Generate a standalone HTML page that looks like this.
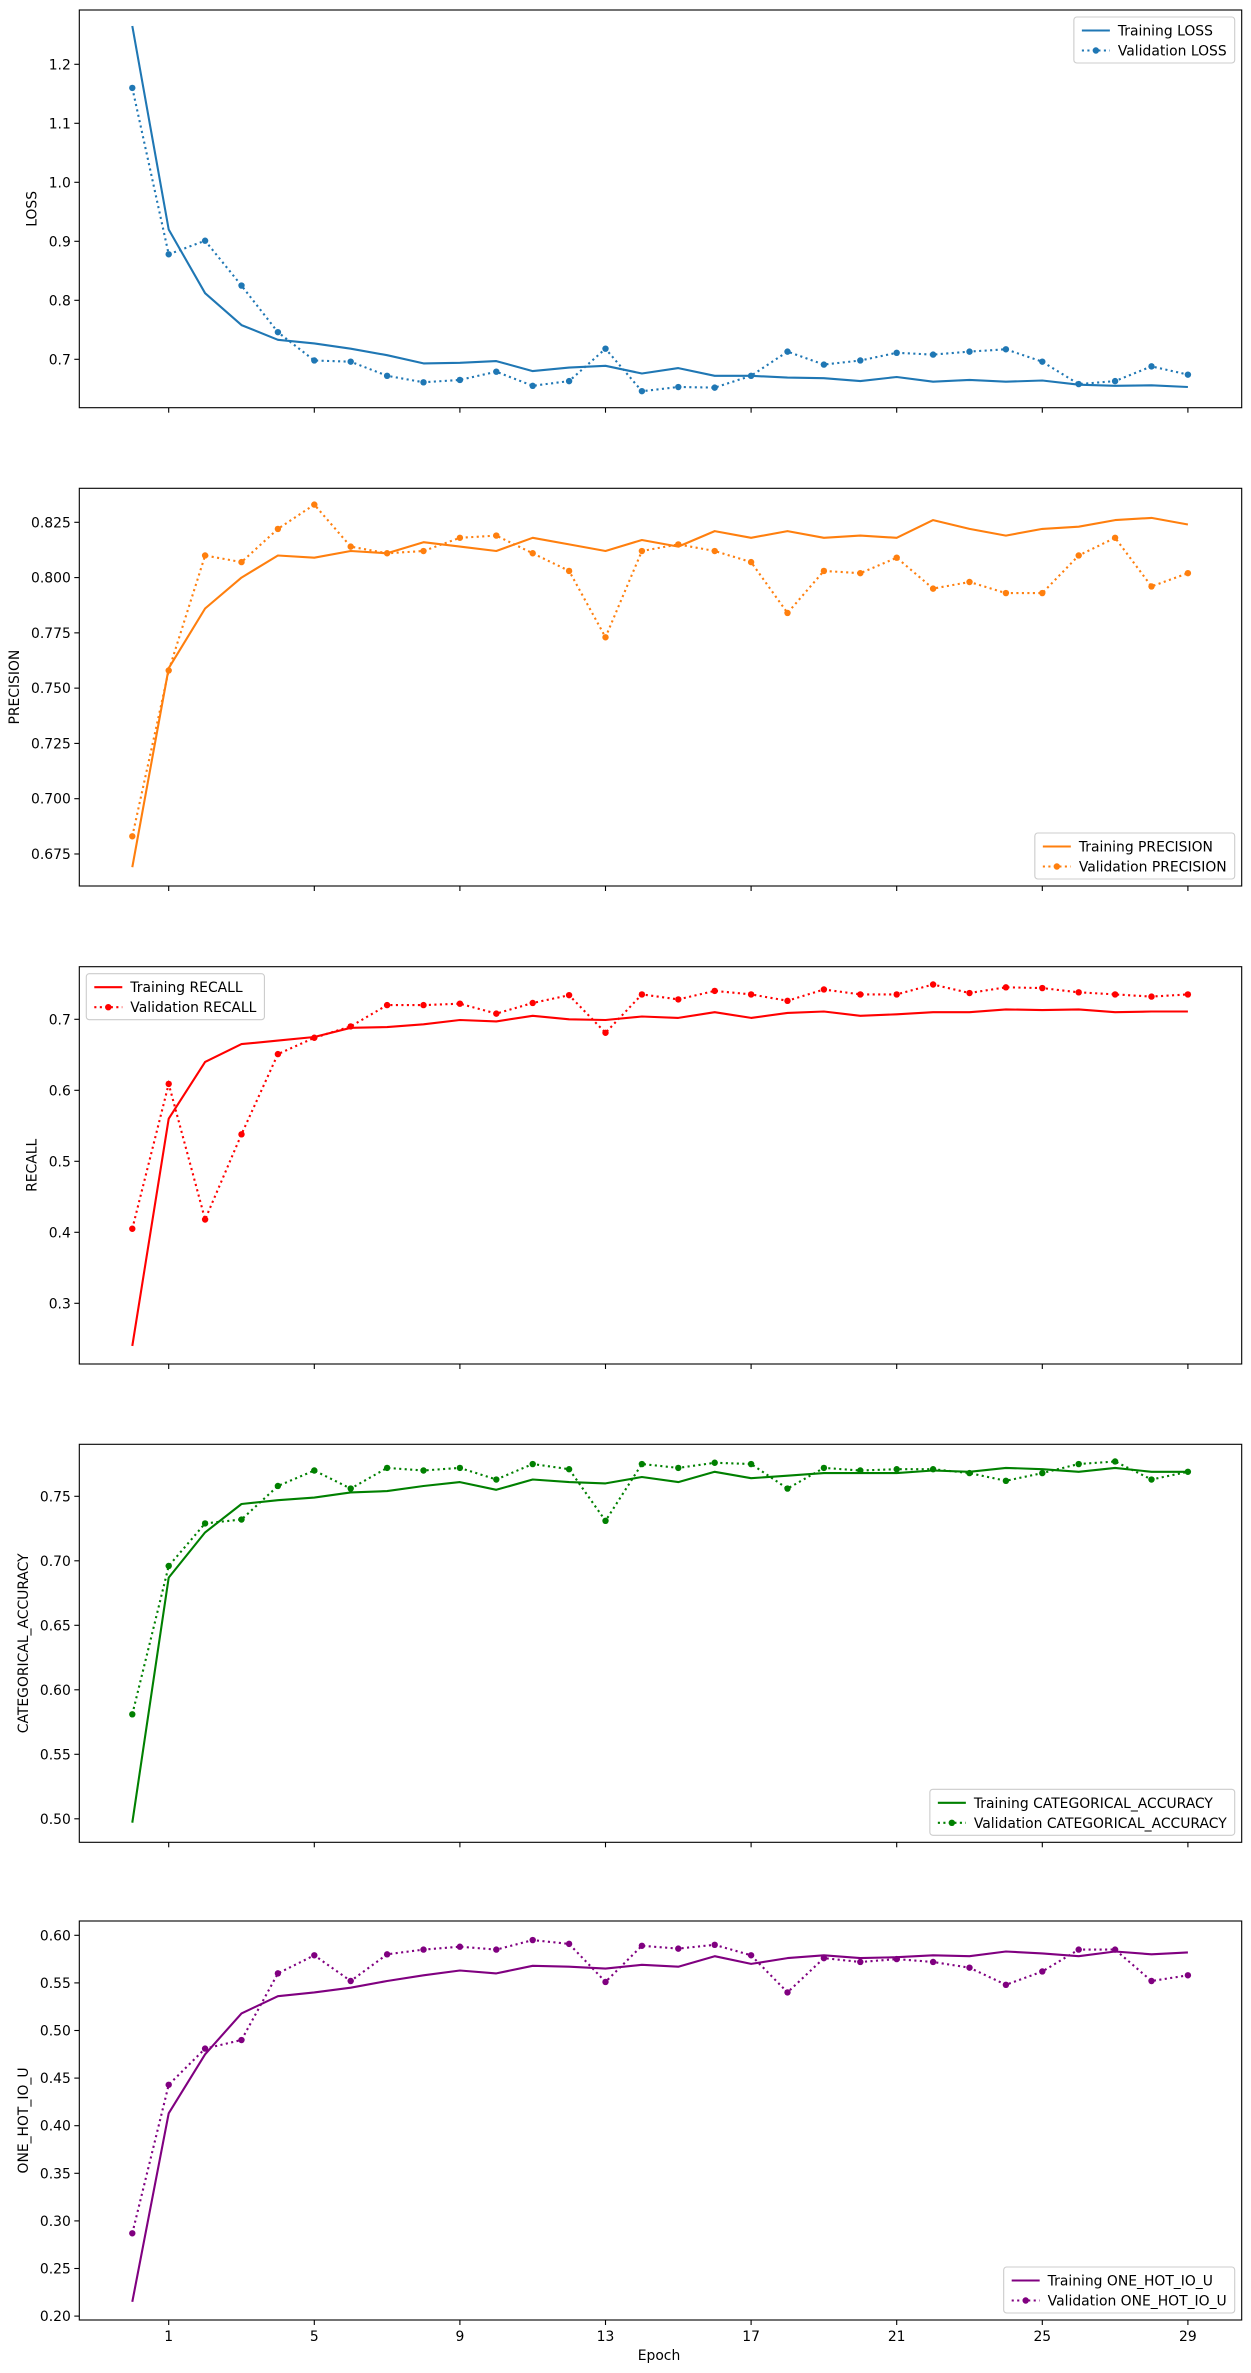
<!DOCTYPE html>
<html><head><meta charset="utf-8"><style>
html,body{margin:0;padding:0;background:#fff;}
svg{display:block;font-family:"DejaVu Sans","Liberation Sans",sans-serif;}
</style></head><body>
<svg id="s" xmlns="http://www.w3.org/2000/svg" width="1251" height="2373" viewBox="0 0 1251 2373"></svg>
<script>
var NS="http://www.w3.org/2000/svg";
var S=document.getElementById('s');
function el(t,a,p,txt){var e=document.createElementNS(NS,t);for(var k in a)e.setAttribute(k,a[k]);if(txt!==undefined)e.textContent=txt;(p||S).appendChild(e);return e;}
var X0=79.3,X1=1241.7;
function xi(i){return 132.3+36.4*i;}
var panels=[
{name:"LOSS",col:"#1f77b4",top:10,bot:407.7,v0:1.2,y0:64.3,k:59/0.1,ticks:[0.7,0.8,0.9,1.0,1.1,1.2],dec:1,leg:"ur",
tr:[1.265,0.92,0.812,0.758,0.733,0.727,0.718,0.707,0.693,0.694,0.697,0.680,0.686,0.689,0.676,0.685,0.672,0.672,0.669,0.668,0.663,0.670,0.662,0.665,0.662,0.664,0.657,0.655,0.656,0.653],
va:[1.16,0.878,0.901,0.825,0.746,0.698,0.696,0.672,0.661,0.665,0.679,0.655,0.663,0.718,0.646,0.653,0.652,0.672,0.713,0.691,0.698,0.711,0.708,0.713,0.717,0.696,0.658,0.663,0.688,0.674]},
{name:"PRECISION",col:"#ff7f0e",top:488.3,bot:886,v0:0.825,y0:522.3,k:55.28/0.025,ticks:[0.675,0.7,0.725,0.75,0.775,0.8,0.825],dec:3,leg:"lr",
tr:[0.669,0.759,0.786,0.800,0.810,0.809,0.812,0.811,0.816,0.814,0.812,0.818,0.815,0.812,0.817,0.814,0.821,0.818,0.821,0.818,0.819,0.818,0.826,0.822,0.819,0.822,0.823,0.826,0.827,0.824],
va:[0.683,0.758,0.810,0.807,0.822,0.833,0.814,0.811,0.812,0.818,0.819,0.811,0.803,0.773,0.812,0.815,0.812,0.807,0.784,0.803,0.802,0.809,0.795,0.798,0.793,0.793,0.810,0.818,0.796,0.802]},
{name:"RECALL",col:"#ff0000",top:966.7,bot:1364,v0:0.7,y0:1019.3,k:71/0.1,ticks:[0.3,0.4,0.5,0.6,0.7],dec:1,leg:"ul",
tr:[0.24,0.56,0.64,0.665,0.67,0.675,0.688,0.689,0.693,0.699,0.697,0.705,0.700,0.699,0.704,0.702,0.710,0.702,0.709,0.711,0.705,0.707,0.710,0.710,0.714,0.713,0.714,0.710,0.711,0.711],
va:[0.405,0.609,0.418,0.538,0.651,0.674,0.690,0.720,0.720,0.722,0.708,0.723,0.734,0.681,0.735,0.728,0.740,0.735,0.726,0.742,0.735,0.735,0.749,0.737,0.745,0.744,0.738,0.735,0.732,0.735]},
{name:"CATEGORICAL_ACCURACY",col:"#008000",top:1444.3,bot:1842.3,v0:0.75,y0:1496.3,k:64.5/0.05,ticks:[0.5,0.55,0.6,0.65,0.7,0.75],dec:2,leg:"lr",
tr:[0.497,0.687,0.722,0.744,0.747,0.749,0.753,0.754,0.758,0.761,0.755,0.763,0.761,0.760,0.765,0.761,0.769,0.764,0.766,0.768,0.768,0.768,0.770,0.769,0.772,0.771,0.769,0.772,0.769,0.769],
va:[0.581,0.696,0.729,0.732,0.758,0.770,0.756,0.772,0.770,0.772,0.763,0.775,0.771,0.731,0.775,0.772,0.776,0.775,0.756,0.772,0.770,0.771,0.771,0.768,0.762,0.768,0.775,0.777,0.763,0.769]},
{name:"ONE_HOT_IO_U",col:"#800080",top:1921,bot:2320,v0:0.6,y0:1935.3,k:47.6/0.05,ticks:[0.2,0.25,0.3,0.35,0.4,0.45,0.5,0.55,0.6],dec:2,leg:"lr",
tr:[0.215,0.413,0.475,0.518,0.536,0.540,0.545,0.552,0.558,0.563,0.560,0.568,0.567,0.565,0.569,0.567,0.578,0.570,0.576,0.579,0.576,0.577,0.579,0.578,0.583,0.581,0.578,0.583,0.580,0.582],
va:[0.287,0.443,0.481,0.490,0.560,0.579,0.552,0.580,0.585,0.588,0.585,0.595,0.591,0.551,0.589,0.586,0.590,0.579,0.540,0.576,0.572,0.575,0.572,0.566,0.548,0.562,0.585,0.585,0.552,0.558]}
];
var FS=13.9;
panels.forEach(function(p,pi){
  function yv(v){return p.y0+(p.v0-v)*p.k;}
  var g=el('g',{});
  var cid='c'+pi;
  var cp=el('clipPath',{id:cid},g);el('rect',{x:X0,y:p.top,width:X1-X0,height:p.bot-p.top},cp);
  // y ticks
  var maxw=0;
  p.ticks.forEach(function(t){var y=yv(t);
    el('line',{x1:X0-5,x2:X0,y1:y,y2:y,stroke:'#000','stroke-width':1.1},g);
    var tx=el('text',{x:X0-8.5,y:y+5,'font-size':FS,'text-anchor':'end',fill:'#000'},g,t.toFixed(p.dec));
    maxw=Math.max(maxw,tx.getComputedTextLength());});
  // x ticks
  [1,5,9,13,17,21,25,29].forEach(function(i){var x=xi(i);
    el('line',{x1:x,x2:x,y1:p.bot,y2:p.bot+5,stroke:'#000','stroke-width':1.1},g);
    if(pi==4)el('text',{x:x,y:p.bot+21,'font-size':FS,'text-anchor':'middle'},g,String(i));});
  // ylabel
  var lx=X0-8.5-maxw-8-4;
  el('text',{x:lx,y:(p.top+p.bot)/2,'font-size':FS,'text-anchor':'middle',transform:'rotate(-90 '+lx+' '+(p.top+p.bot)/2+')'},g,p.name);
  var cg=el('g',{'clip-path':'url(#'+cid+')'},g);
  var pts1=p.tr.map(function(v,i){return xi(i).toFixed(1)+','+yv(v).toFixed(1);}).join(' ');
  var pts2=p.va.map(function(v,i){return xi(i).toFixed(1)+','+yv(v).toFixed(1);}).join(' ');
  el('polyline',{points:pts1,fill:'none',stroke:p.col,'stroke-width':2.1,'stroke-linejoin':'round'},cg);
  el('polyline',{points:pts2,fill:'none',stroke:p.col,'stroke-width':2.1,'stroke-dasharray':'2.1,3.4'},cg);
  p.va.forEach(function(v,i){el('circle',{cx:xi(i),cy:yv(v),r:3.2,fill:p.col},cg);});
  el('rect',{x:X0,y:p.top,width:X1-X0,height:p.bot-p.top,fill:'none',stroke:'#000','stroke-width':1.1},g);
  // legend
  var lg=el('g',{},g);
  var t1=el('text',{'font-size':FS},lg,'Training '+p.name);
  var t2=el('text',{'font-size':FS},lg,'Validation '+p.name);
  var w=Math.max(t1.getComputedTextLength(),t2.getComputedTextLength())+52;
  var h=46;
  var lx0,ly0;
  if(p.leg=='ur'){lx0=X1-7-w;ly0=p.top+7;}
  else if(p.leg=='ul'){lx0=X0+7;ly0=p.top+7;}
  else{lx0=X1-7-w;ly0=p.bot-7-h;}
  var box=el('rect',{x:lx0,y:ly0,width:w,height:h,rx:3,fill:'#fff','fill-opacity':0.8,stroke:'#ccc','stroke-width':1.1});
  lg.insertBefore(box,t1);
  var r1=ly0+13.5,r2=ly0+33.5;
  el('line',{x1:lx0+8,x2:lx0+36,y1:r1,y2:r1,stroke:p.col,'stroke-width':2.1},lg);
  el('line',{x1:lx0+8,x2:lx0+36,y1:r2,y2:r2,stroke:p.col,'stroke-width':2.1,'stroke-dasharray':'2.1,3.4'},lg);
  el('circle',{cx:lx0+22,cy:r2,r:3.2,fill:p.col},lg);
  t1.setAttribute('x',lx0+44);t1.setAttribute('y',r1+5);
  t2.setAttribute('x',lx0+44);t2.setAttribute('y',r2+5);
});
el('text',{x:659,y:2360,'font-size':FS,'text-anchor':'middle'},S,'Epoch');
</script>
</body></html>
